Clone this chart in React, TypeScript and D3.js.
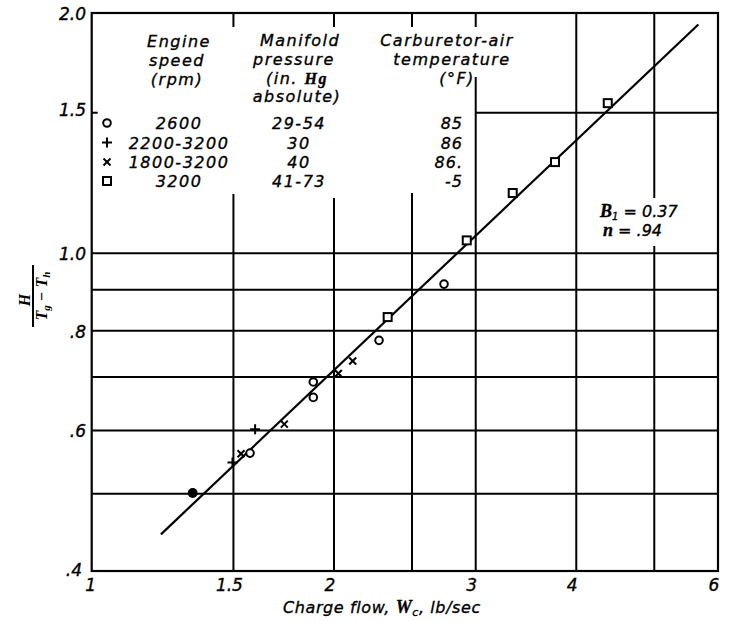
import React from 'react';
import * as d3 from 'd3';

// ---- Data ----
const xTickValues = [1, 1.5, 2, 3, 4, 6];
const xTickLabels = ['1', '1.5', '2', '3', '4', '6'];
const yTickValues = [0.4, 0.6, 0.8, 1.0, 1.5, 2.0];
const yTickLabels = ['.4', '.6', '.8', '1.0', '1.5', '2.0'];
const xGridValues = [1.5, 2, 2.5, 3, 4, 5];
const yGridValues = [0.5, 0.6, 0.7, 0.8, 0.9, 1.0];
const yGridPartialValues = [1.5];

const rpm2600: [number, number][] = [[1.573, 0.562], [1.885, 0.660], [1.885, 0.690], [2.275, 0.778], [2.740, 0.915]];
const rpm2200to3200: [number, number][] = [[1.496, 0.547], [1.596, 0.602]];
const rpm1800to3200: [number, number][] = [[1.533, 0.561], [1.735, 0.611], [2.025, 0.707], [2.110, 0.733]];
const rpm3200: [number, number][] = [[2.332, 0.832], [2.924, 1.038], [3.335, 1.190], [3.764, 1.301], [4.377, 1.542]];
const filledPoints: [number, number][] = [[1.335, 0.501]];
const fitLine: [number, number][] = [[1.219, 0.4446], [5.672, 1.935]];

const legendSpeed = ['2600', '2200-3200', '1800-3200', '3200'];
const legendPressure = ['29-54', '30', '40', '41-73'];
const legendTemp = ['85', '86', '86.', '-5'];
const legendMarkers = ['circle', 'plus', 'cross', 'square'];

const W = 729;
const H = 622;
const L = 91.7, R = 718, T = 13, B = 571;
const FONT = '"DejaVu Sans", sans-serif';
const SERIF = '"Liberation Serif", "DejaVu Serif", serif';

function Marker({ kind, x, y }: { kind: string; x: number; y: number }) {
  const sw = 2;
  if (kind === 'circle') return <circle cx={x} cy={y} r={3.8} fill="white" stroke="black" strokeWidth={sw} />;
  if (kind === 'square') return <rect x={x - 4} y={y - 4} width={8} height={8} fill="white" stroke="black" strokeWidth={sw} />;
  if (kind === 'plus') return (
    <g stroke="black" strokeWidth={sw}>
      <line x1={x - 5} y1={y} x2={x + 5} y2={y} />
      <line x1={x} y1={y - 5} x2={x} y2={y + 5} />
    </g>
  );
  if (kind === 'cross') return (
    <g stroke="black" strokeWidth={sw}>
      <line x1={x - 3.5} y1={y - 3.5} x2={x + 3.5} y2={y + 3.5} />
      <line x1={x - 3.5} y1={y + 3.5} x2={x + 3.5} y2={y - 3.5} />
    </g>
  );
  return <circle cx={x} cy={y} r={5} fill="black" />;
}

export default function App() {
  const xs = d3.scaleLog().domain([1, 6]).range([L, R]);
  const ys = d3.scaleLog().domain([0.4, 2.0]).range([B, T]);
  const line = d3.line<[number, number]>().x(d => xs(d[0])).y(d => ys(d[1]));

  // vertical grid segments (pixel gaps where legend/labels sit)
  const vSegments: Record<number, [number, number][]> = {
    1.5: [[T, 27], [194, B]],
    2: [[T, 27], [198, B]],
    2.5: [[T, 27], [193, B]],
    3: [[T, 27], [77, B]],
    4: [[T, B]],
    5: [[T, 198], [246, B]],
  };

  const series: { kind: string; data: [number, number][] }[] = [
    { kind: 'circle', data: rpm2600 },
    { kind: 'plus', data: rpm2200to3200 },
    { kind: 'cross', data: rpm1800to3200 },
    { kind: 'square', data: rpm3200 },
    { kind: 'filled', data: filledPoints },
  ];

  const rowY = [123, 142.5, 162, 181];
  const txt = { fontFamily: FONT, fontStyle: 'italic' as const, fill: 'black', stroke: 'black', strokeWidth: 0.35 };

  return (
    <svg width={W} height={H} style={{ position: 'absolute', left: 0, top: 0, background: 'white' }}>
      <rect x={0} y={0} width={W} height={H} fill="white" />
      {/* horizontal grid */}
      {yGridValues.map(v => (
        <line key={'h' + v} x1={L} x2={R} y1={ys(v)} y2={ys(v)} stroke="black" strokeWidth={2} />
      ))}
      {yGridPartialValues.map(v => (
        <line key={'hp' + v} x1={xs(3)} x2={R} y1={ys(v)} y2={ys(v)} stroke="black" strokeWidth={2} />
      ))}
      <line x1={L} x2={L + 6} y1={ys(1.5)} y2={ys(1.5)} stroke="black" strokeWidth={2} />
      {/* vertical grid */}
      {xGridValues.map(v => (
        <g key={'v' + v}>
          {(vSegments[v] || [[T, B]]).map((s, i) => (
            <line key={i} x1={xs(v)} x2={xs(v)} y1={s[0]} y2={s[1]} stroke="black" strokeWidth={2} />
          ))}
        </g>
      ))}
      {/* frame */}
      <rect x={L} y={T} width={R - L} height={B - T} fill="none" stroke="black" strokeWidth={2.2} />

      {/* fit line */}
      <path d={line(fitLine) || ''} fill="none" stroke="black" strokeWidth={2.2} />

      {/* points */}
      {series.map(s => s.data.map((d, i) => (
        <Marker key={s.kind + i} kind={s.kind} x={xs(d[0])} y={ys(d[1])} />
      )))}

      {/* y tick labels */}
      {yTickValues.map((v, i) => (
        <text key={'yt' + v} x={v === 0.4 ? 82 : 86} y={ys(v) + (v === 0.4 ? 5 : v === 1.5 ? 3 : 7)} textAnchor="end" fontSize={17} {...txt}>{yTickLabels[i]}</text>
      ))}
      {/* x tick labels */}
      {xTickValues.map((v, i) => (
        <text key={'xt' + v} x={xs(v) - (v === 1 ? 1 : 4)} y={591} textAnchor="middle" fontSize={17} {...txt}>{xTickLabels[i]}</text>
      ))}

      {/* x title */}
      <text x={283} y={613} fontSize={16} letterSpacing={0.6} {...txt}>
        Charge flow, <tspan fontFamily={SERIF} fontWeight="bold" fontSize={18}>W</tspan><tspan fontSize={11} dy={3}>c</tspan><tspan dy={-3}>, lb/sec</tspan>
      </text>

      {/* y title: H / (Tg - Th) */}
      <g transform="translate(33,296) rotate(-90)">
        <text x={-4} y={-3} textAnchor="middle" fontFamily={SERIF} fontStyle="italic" fontWeight="bold" fontSize={16}>H</text>
        <line x1={-31} x2={31} y1={0} y2={0} stroke="black" strokeWidth={2} />
        <text x={0} y={14} textAnchor="middle" fontFamily={SERIF} fontStyle="italic" fontWeight="bold" fontSize={16}>
          T<tspan fontSize={11} dy={3}>g</tspan><tspan dy={-3}> − T</tspan><tspan fontSize={11} dy={3}>h</tspan>
        </text>
      </g>

      {/* legend headers */}
      <g fontSize={16} letterSpacing={1.5} {...txt}>
        <text x={179} y={47} textAnchor="middle">Engine</text>
        <text x={177} y={66} textAnchor="middle">speed</text>
        <text x={177} y={85} textAnchor="middle">(rpm)</text>

        <text x={300} y={46} textAnchor="middle">Manifold</text>
        <text x={294} y={65} textAnchor="middle">pressure</text>
        <text x={297} y={84} textAnchor="middle">(in. <tspan fontFamily={SERIF} fontWeight="bold">Hg</tspan></text>
        <text x={297} y={102} textAnchor="middle">absolute)</text>

        <text x={447} y={46} textAnchor="middle">Carburetor-air</text>
        <text x={452} y={65} textAnchor="middle">temperature</text>
        <text x={457} y={84} textAnchor="middle">(°F)</text>
      </g>

      {/* legend rows */}
      {legendMarkers.map((m, i) => (
        <g key={'lg' + i}>
          <Marker kind={m} x={107} y={rowY[i]} />
          <text x={179} y={rowY[i] + 6} textAnchor="middle" fontSize={16} letterSpacing={1.5} {...txt}>{legendSpeed[i]}</text>
          <text x={299} y={rowY[i] + 6} textAnchor="middle" fontSize={16} letterSpacing={1.5} {...txt}>{legendPressure[i]}</text>
          <text x={463} y={rowY[i] + 6} textAnchor="end" fontSize={16} letterSpacing={1} {...txt}>{legendTemp[i]}</text>
        </g>
      ))}

      {/* B1, n annotation */}
      <text x={600} y={217} fontSize={16} {...txt}>
        <tspan fontFamily={SERIF} fontWeight="bold" fontSize={18}>B</tspan><tspan fontSize={10} dy={3}>1</tspan><tspan dy={-3}> = 0.37</tspan>
      </text>
      <text x={603} y={236} fontSize={16} {...txt}>
        <tspan fontFamily={SERIF} fontWeight="bold" fontSize={18}>n</tspan><tspan> =  .94</tspan>
      </text>
    </svg>
  );
}
